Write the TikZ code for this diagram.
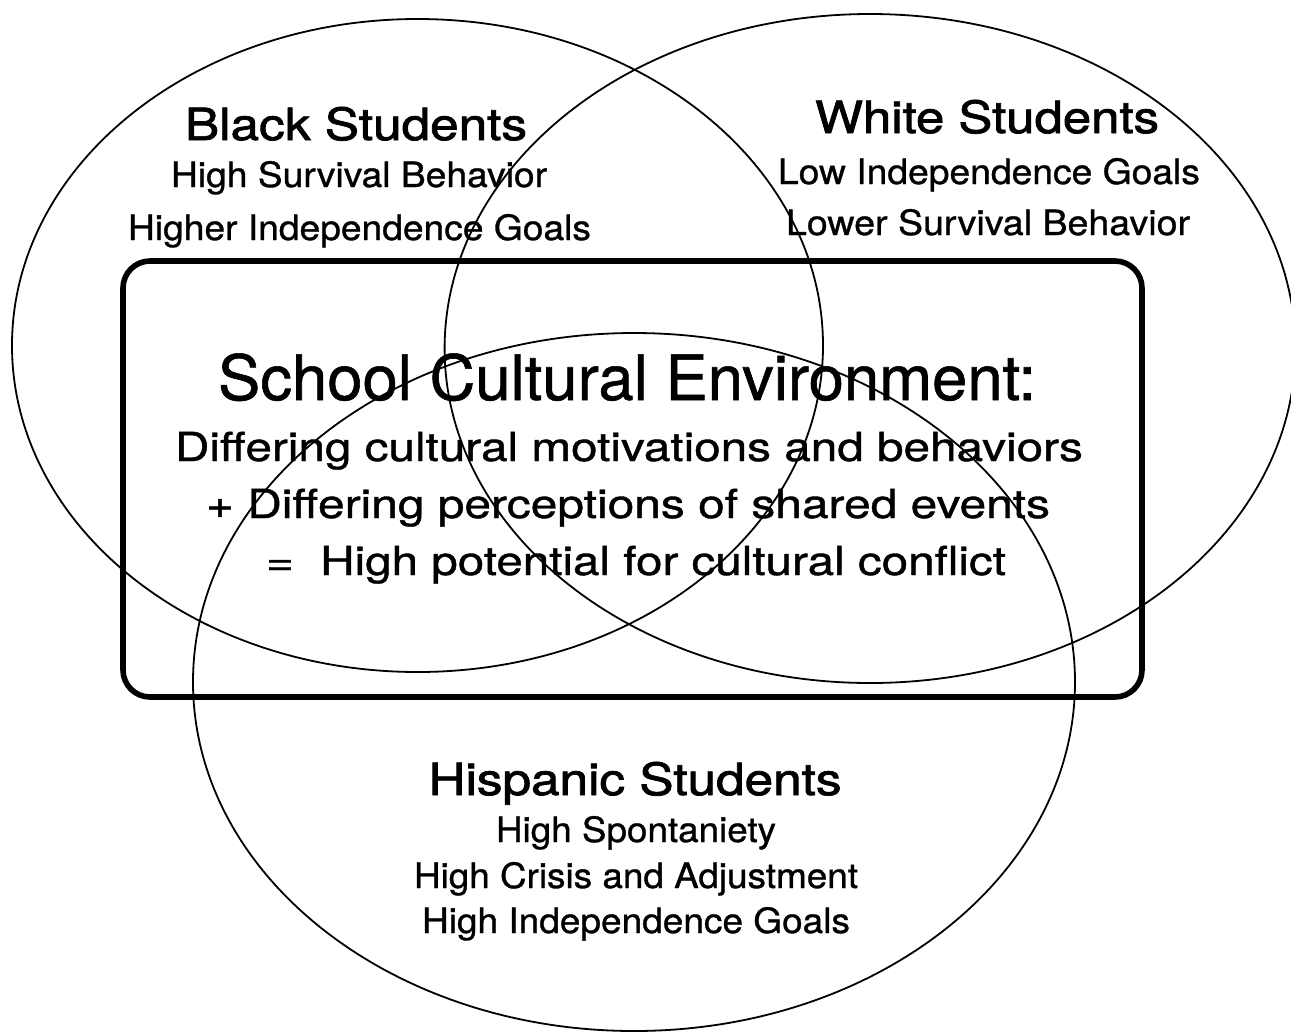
\documentclass[tikz,border=0pt]{standalone}
\usepackage{fontspec}
\setmainfont{TeX Gyre Heros}
\newfontfamily\heavyfont{TeX Gyre Heros}[FakeBold=0.9]
\newfontfamily\headfont{TeX Gyre Heros}[FakeBold=1.6]
\usepackage{graphicx}
\newcommand\fitto[2]{\resizebox{#1}{\height}{#2}}
\tikzset{
  ell/.style={line width=0.9pt},
  envbox/.style={line width=2.8pt, rounded corners=13.5pt},
  titletext/.style={anchor=base, inner sep=0pt, font=\heavyfont\fontsize{31.25}{36}\selectfont},
  headtext/.style={anchor=base, inner sep=0pt, font=\headfont\fontsize{22.2}{26}\selectfont},
  bodytext/.style={anchor=base, inner sep=0pt, font=\heavyfont\fontsize{20}{24}\selectfont},
  subtext/.style={anchor=base, inner sep=0pt, font=\heavyfont\fontsize{17.4}{21}\selectfont},
}
\begin{document}
\begin{tikzpicture}[x=0.5pt,y=-0.5pt]
\useasboundingbox (0,0) rectangle (1291,1035);
% ellipses
\draw[ell] (417.5,345.5) ellipse [x radius=202.75pt, y radius=163.25pt];
\draw[ell] (870,348.5) ellipse [x radius=212.7pt, y radius=167.25pt];
\draw[ell] (634,682) ellipse [x radius=220.5pt, y radius=174.5pt];
% environment box
\draw[envbox] (123,261) rectangle (1142,697);
% Black
\node[headtext] (bh) at (356,140) {\fitto{171pt}{Black Students}};
\node[subtext] (b1) at (359,187) {\fitto{188pt}{High Survival Behavior}};
\node[subtext] (b2) at (359.5,240) {\fitto{231.5pt}{Higher Independence Goals}};
% White
\node[headtext] (wh) at (987,133) {\fitto{172pt}{White Students}};
\node[subtext] (w1) at (989,184) {\fitto{211pt}{Low Independence Goals}};
\node[subtext] (w2) at (988,235) {\fitto{202pt}{Lower Survival Behavior}};
% Environment
\node[titletext] (title) at (627,400) {\fitto{409pt}{School Cultural Environment:}};
\node[bodytext] (e1) at (629,461) {\fitto{454pt}{Differing cultural motivations and behaviors}};
\node[bodytext] (e2) at (628,518) {\fitto{422pt}{+ Differing perceptions of shared events}};
\node[bodytext] (e3) at (636,575) {\fitto{370pt}{=\ \ High potential for cultural conflict}};
% Hispanic
\node[headtext] (hh) at (635,795) {\fitto{206.5pt}{Hispanic Students}};
\node[subtext] (h1) at (636,842) {\fitto{140pt}{High Spontaniety}};
\node[subtext] (h2) at (636,888) {\fitto{222pt}{High Crisis and Adjustment}};
\node[subtext] (h3) at (636,933) {\fitto{214pt}{High Independence Goals}};
\end{tikzpicture}
\end{document}
